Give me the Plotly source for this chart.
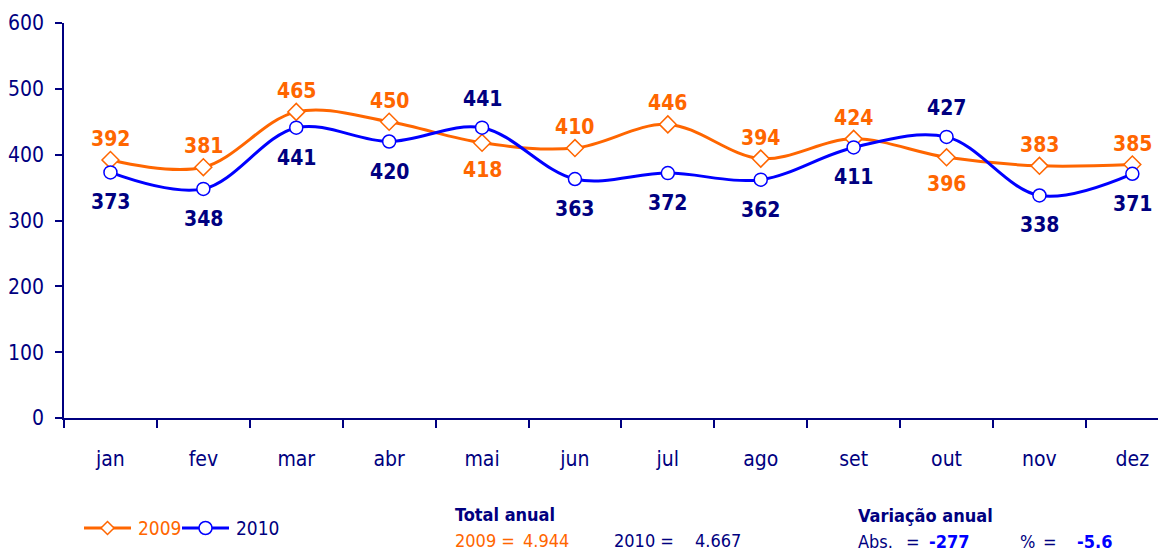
import plotly.graph_objects as go

months = ["jan", "fev", "mar", "abr", "mai", "jun", "jul", "ago", "set", "out", "nov", "dez"]
vals_2009 = [392, 381, 465, 450, 418, 410, 446, 394, 424, 396, 383, 385]
vals_2010 = [373, 348, 441, 420, 441, 363, 372, 362, 411, 427, 338, 371]
pos_2009 = ["a", "a", "a", "a", "b", "a", "a", "a", "a", "b", "a", "a"]
pos_2010 = ["b", "b", "b", "b", "a", "b", "b", "b", "b", "a", "b", "b"]
series_names = ["2009", "2010"]
total_2009 = "4.944"
total_2010 = "4.667"
var_abs = "-277"
var_pct = "-5.6"

FONT = "DejaVu Sans Condensed, Liberation Sans Narrow, Arial Narrow, sans-serif"
ORANGE = "#FF6600"
BLUE = "#0000FF"
NAVY = "#000080"

OFF = 8  # page body margin
W, H = 1166, 550
L, T = 64 - OFF, 23 - OFF
BOTTOM_PX = 418 - OFF
B = H - BOTTOM_PX
plot_w = W - L
plot_h = H - T - B
cat_w = 92.9

fig = go.Figure()
fig.add_trace(go.Scatter(
    x=months, y=vals_2009, name=series_names[0], mode="lines+markers", showlegend=False,
    line=dict(color=ORANGE, width=3, shape="spline"),
    marker=dict(symbol="diamond", size=13, color="white", line=dict(color=ORANGE, width=1.5)),
))
fig.add_trace(go.Scatter(
    x=months, y=vals_2010, name=series_names[1], mode="lines+markers", showlegend=False,
    line=dict(color=BLUE, width=3, shape="spline"),
    marker=dict(symbol="circle", size=13, color="white", line=dict(color=BLUE, width=1.5)),
))

anns = []
for m, v, p in zip(months, vals_2009, pos_2009):
    anns.append(dict(x=m, y=v, xref="x", yref="y", text=f"<b>{v}</b>", showarrow=False,
                     yshift=21 if p == "a" else -27,
                     font=dict(family=FONT, size=21, color=ORANGE)))
for m, v, p in zip(months, vals_2010, pos_2010):
    anns.append(dict(x=m, y=v, xref="x", yref="y", text=f"<b>{v}</b>", showarrow=False,
                     yshift=29 if p == "a" else -30,
                     font=dict(family=FONT, size=21, color=NAVY)))

def px_x(px):
    return (px - OFF - L) / plot_w

def px_y(py):
    return (BOTTOM_PX - (py - OFF)) / plot_h

def txt(px, py, text, color, size=18, bold=False):
    anns.append(dict(x=px_x(px), y=px_y(py), xref="paper", yref="paper",
                     xanchor="left", yanchor="middle", showarrow=False,
                     text=(f"<b>{text}</b>" if bold else text),
                     font=dict(family=FONT, size=size, color=color)))

txt(453, 514, "Total anual", NAVY, bold=True)
txt(453, 540, "2009 =", ORANGE)
txt(521, 540, total_2009, ORANGE)
txt(612, 540, "2010 =", NAVY)
txt(693, 540, total_2010, NAVY)
txt(856, 515, "Variação anual", NAVY, bold=True)
txt(856, 541, "Abs.", NAVY)
txt(904, 541, "=", NAVY)
txt(927, 541, var_abs, BLUE, bold=True)
txt(1018, 541, "%", NAVY)
txt(1041, 541, "=", NAVY)
txt(1075, 541, var_pct, BLUE, bold=True)

# legend drawn beside the bottom notes
shapes = []
leg_y = 528
def legend_item(x0, x1, color, symbol, label, label_color):
    yy = px_y(leg_y)
    shapes.append(dict(type="line", xref="paper", yref="paper", x0=px_x(x0), x1=px_x(x1),
                       y0=yy, y1=yy, line=dict(color=color, width=3)))
    cx = (x0 + x1) / 2
    r = 6.5
    if symbol == "diamond":
        path = (f"M {px_x(cx - r)},{yy} L {px_x(cx)},{px_y(leg_y - r)} "
                f"L {px_x(cx + r)},{yy} L {px_x(cx)},{px_y(leg_y + r)} Z")
        shapes.append(dict(type="path", xref="paper", yref="paper", path=path,
                           fillcolor="white", line=dict(color=color, width=1.5)))
    else:
        shapes.append(dict(type="circle", xref="paper", yref="paper",
                           x0=px_x(cx - r), x1=px_x(cx + r), y0=px_y(leg_y + r), y1=px_y(leg_y - r),
                           fillcolor="white", line=dict(color=color, width=1.5)))
    txt(x1 + 5, leg_y, label, label_color, size=19)

legend_item(84, 131, ORANGE, "diamond", series_names[0], ORANGE)
legend_item(182, 229, BLUE, "circle", series_names[1], NAVY)

fig.update_layout(
    width=W, height=H,
    margin=dict(l=L, r=0, t=T, b=B),
    paper_bgcolor="white", plot_bgcolor="white",
    font=dict(family=FONT, color=NAVY),
    showlegend=False,
    annotations=anns,
    shapes=shapes,
)
fig.update_xaxes(
    type="category", categoryorder="array", categoryarray=months,
    range=[-0.5, plot_w / cat_w - 0.5],
    showline=True, linecolor=NAVY, linewidth=1.5,
    ticks="outside", tickson="boundaries", ticklen=8, tickcolor=NAVY, tickwidth=1.5,
    tickfont=dict(family=FONT, size=21, color=NAVY), ticklabelstandoff=21,
    showgrid=False, zeroline=False,
)
fig.update_yaxes(
    range=[0, 600], tickvals=[0, 100, 200, 300, 400, 500, 600],
    showline=True, linecolor=NAVY, linewidth=1.5,
    ticks="outside", ticklen=7, tickcolor=NAVY, tickwidth=1.5,
    tickfont=dict(family=FONT, size=21, color=NAVY), ticklabelstandoff=7,
    showgrid=False, zeroline=False,
)

fig.write_html("out.html")
